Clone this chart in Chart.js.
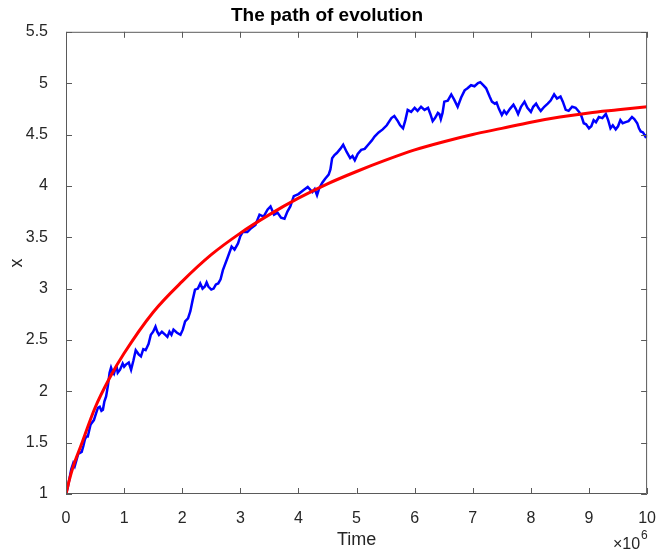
<!DOCTYPE html>
<html>
<head>
<meta charset="utf-8">
<title>The path of evolution</title>
<script src="https://cdn.jsdelivr.net/npm/chart.js@4/dist/chart.umd.min.js"></script>
<style>
  html, body { margin: 0; padding: 0; background: #fff; }
  #wrap { width: 663px; height: 554px; }
</style>
</head>
<body>
<div id="wrap"><canvas id="pathChart" width="663" height="554"></canvas></div>
<script>
// time in units of 10^6
const xTicks = [0, 1, 2, 3, 4, 5, 6, 7, 8, 9, 10];
const yTicks = [1, 1.5, 2, 2.5, 3, 3.5, 4, 4.5, 5, 5.5];

// simulated path (blue)
const pathTime = [
  0, 0.03, 0.06, 0.09, 0.125, 0.15, 0.18, 0.21, 0.24, 0.27,
  0.30, 0.325, 0.35, 0.375, 0.40, 0.42, 0.44, 0.48, 0.52, 0.55,
  0.58, 0.61, 0.635, 0.66, 0.69, 0.72, 0.75, 0.775, 0.80, 0.825,
  0.85, 0.87, 0.89, 0.93, 0.975, 1.00, 1.03, 1.08, 1.12, 1.16,
  1.20, 1.25, 1.29, 1.33, 1.37, 1.42, 1.46, 1.50, 1.54, 1.57,
  1.60, 1.65, 1.71, 1.745, 1.78, 1.815, 1.85, 1.91, 1.97, 2.01,
  2.05, 2.10, 2.14, 2.18, 2.22, 2.27, 2.31, 2.35, 2.39, 2.42,
  2.45, 2.50, 2.54, 2.58, 2.62, 2.66, 2.70, 2.78, 2.85, 2.90,
  2.96, 3.00, 3.04, 3.12, 3.19, 3.26, 3.33, 3.40, 3.47, 3.52,
  3.58, 3.64, 3.70, 3.76, 3.81, 3.86, 3.92, 4.00, 4.09, 4.16,
  4.24, 4.28, 4.32, 4.36, 4.41, 4.46, 4.52, 4.55, 4.58, 4.62,
  4.66, 4.72, 4.77, 4.83, 4.89, 4.93, 4.97, 5.02, 5.08, 5.14,
  5.20, 5.26, 5.31, 5.38, 5.45, 5.52, 5.60, 5.65, 5.71, 5.75,
  5.80, 5.84, 5.88, 5.94, 6.00, 6.05, 6.11, 6.17, 6.23, 6.27,
  6.31, 6.35, 6.40, 6.425, 6.45, 6.48, 6.51, 6.57, 6.63, 6.68,
  6.74, 6.80, 6.86, 6.91, 6.97, 7.03, 7.09, 7.13, 7.18, 7.23,
  7.29, 7.33, 7.38, 7.41, 7.45, 7.50, 7.54, 7.58, 7.64, 7.70,
  7.74, 7.78, 7.83, 7.89, 7.94, 8.00, 8.04, 8.09, 8.13, 8.17,
  8.23, 8.29, 8.34, 8.40, 8.45, 8.51, 8.55, 8.60, 8.65, 8.71,
  8.77, 8.83, 8.87, 8.91, 8.95, 9.00, 9.04, 9.08, 9.12, 9.17,
  9.23, 9.29, 9.33, 9.37, 9.41, 9.46, 9.50, 9.54, 9.58, 9.63,
  9.68, 9.74, 9.78, 9.83, 9.86, 9.89, 9.93, 9.97, 9.985, 10.00
];
const pathValue = [
  1.00, 1.06, 1.15, 1.24, 1.30, 1.27, 1.33, 1.39, 1.40, 1.41,
  1.47, 1.53, 1.56, 1.56, 1.62, 1.67, 1.69, 1.72, 1.79, 1.84,
  1.85, 1.81, 1.82, 1.90, 1.95, 2.05, 2.18, 2.23, 2.19, 2.17,
  2.22, 2.24, 2.18, 2.21, 2.27, 2.24, 2.26, 2.28, 2.21, 2.30,
  2.40, 2.36, 2.34, 2.41, 2.40, 2.46, 2.55, 2.58, 2.63, 2.58,
  2.55, 2.58, 2.55, 2.53, 2.58, 2.55, 2.60, 2.57, 2.55, 2.60,
  2.68, 2.71, 2.78, 2.89, 2.99, 3.00, 3.05, 3.00, 3.02, 3.06,
  3.02, 2.99, 3.00, 3.04, 3.05, 3.09, 3.18, 3.30, 3.41, 3.38,
  3.44, 3.51, 3.55, 3.55, 3.59, 3.62, 3.72, 3.70, 3.77, 3.80,
  3.72, 3.74, 3.69, 3.68, 3.75, 3.80, 3.90, 3.92, 3.96, 3.99,
  3.94, 3.97, 3.91, 3.98, 4.03, 4.07, 4.11, 4.16, 4.27, 4.30,
  4.32, 4.36, 4.40, 4.33, 4.27, 4.29, 4.25, 4.31, 4.35, 4.36,
  4.40, 4.44, 4.48, 4.52, 4.55, 4.59, 4.66, 4.68, 4.63, 4.59,
  4.56, 4.64, 4.74, 4.72, 4.76, 4.73, 4.77, 4.74, 4.76, 4.70,
  4.63, 4.66, 4.71, 4.70, 4.65, 4.71, 4.82, 4.83, 4.89, 4.84,
  4.77, 4.86, 4.93, 4.95, 4.98, 4.97, 5.00, 5.01, 4.98, 4.95,
  4.87, 4.82, 4.80, 4.81, 4.75, 4.69, 4.73, 4.70, 4.75, 4.79,
  4.75, 4.70, 4.77, 4.82, 4.76, 4.72, 4.77, 4.80, 4.76, 4.73,
  4.77, 4.80, 4.83, 4.89, 4.85, 4.87, 4.82, 4.74, 4.73, 4.77,
  4.76, 4.72, 4.68, 4.61, 4.60, 4.56, 4.58, 4.64, 4.62, 4.67,
  4.66, 4.70, 4.64, 4.56, 4.59, 4.55, 4.58, 4.64, 4.61, 4.62,
  4.63, 4.67, 4.65, 4.61, 4.56, 4.53, 4.52, 4.48, 4.49, 4.47
];

// expected value (red)
const meanTime = [0, 0.05, 0.125, 0.25, 0.5, 0.75, 1, 1.5, 2, 2.5, 3, 3.5, 4, 4.5, 5, 5.5, 6, 6.5, 7, 7.5, 8, 8.5, 9, 9.5, 10];
const meanValue = [1, 1.12, 1.27, 1.46, 1.84, 2.13, 2.37, 2.77, 3.07, 3.33, 3.54, 3.72, 3.88, 4.02, 4.14, 4.25, 4.35, 4.43, 4.50, 4.56, 4.62, 4.67, 4.71, 4.74, 4.77];

const FONT = "'Liberation Sans', Arial, Helvetica, sans-serif";
const TEXT = "#262626";

// box round the axes with inward ticks, plus the x10^6 note
const boxPlugin = {
  id: "box",
  afterDraw(chart) {
    const { ctx, chartArea: a, scales } = chart;
    ctx.save();
    ctx.strokeStyle = "#5a5a5a";
    ctx.lineWidth = 1;
    ctx.beginPath();
    ctx.rect(a.left + 0.5, a.top + 0.5, a.right - a.left - 1, a.bottom - a.top - 1);
    xTicks.forEach((t) => {
      const px = Math.round(scales.x.getPixelForValue(t)) + 0.5;
      ctx.moveTo(px, a.bottom);
      ctx.lineTo(px, a.bottom - 6);
      ctx.moveTo(px, a.top);
      ctx.lineTo(px, a.top + 6);
    });
    yTicks.forEach((t) => {
      const py = Math.round(scales.y.getPixelForValue(t)) + 0.5;
      ctx.moveTo(a.left, py);
      ctx.lineTo(a.left + 6, py);
      ctx.moveTo(a.right, py);
      ctx.lineTo(a.right - 6, py);
    });
    ctx.stroke();

    ctx.fillStyle = TEXT;
    ctx.textBaseline = "alphabetic";
    ctx.textAlign = "left";
    ctx.font = "16px " + FONT;
    ctx.fillText("\u00d710", 613, 549);
    ctx.font = "12px " + FONT;
    ctx.fillText("6", 641, 539);
    ctx.restore();
  },
};

document.addEventListener("DOMContentLoaded", () => {
  const ctx = document.querySelector("#pathChart").getContext("2d");

  new Chart(ctx, {
    type: "line",
    data: {
      datasets: [
        {
          label: "mean",
          data: meanTime.map((t, i) => ({ x: t, y: meanValue[i] })),
          borderColor: "#ff0000",
          borderWidth: 3,
          pointRadius: 0,
          cubicInterpolationMode: "monotone",
        },
        {
          label: "path",
          data: pathTime.map((t, i) => ({ x: t, y: pathValue[i] })),
          borderColor: "#0000ff",
          borderWidth: 2.5,
          pointRadius: 0,
          tension: 0,
        },
      ],
    },
    options: {
      responsive: false,
      animation: false,
      layout: { padding: { left: 0, right: 9, top: 0, bottom: 0 } },
      plugins: {
        legend: { display: false },
        tooltip: { enabled: false },
        title: {
          display: true,
          text: "The path of evolution",
          color: "#000",
          font: { family: FONT, size: 19, weight: "bold" },
          padding: { top: 4, bottom: 5 },
        },
      },
      scales: {
        x: {
          type: "linear",
          min: 0,
          max: 10,
          afterBuildTicks: (scale) => {
            scale.ticks = xTicks.map((v) => ({ value: v }));
          },
          afterFit: (scale) => {
            scale.height = 60;
          },
          grid: { display: false },
          border: { display: false },
          ticks: {
            color: TEXT,
            font: { family: FONT, size: 16 },
            padding: 7,
            maxRotation: 0,
            callback: (v) => String(v),
          },
          title: {
            display: true,
            text: "Time",
            color: TEXT,
            font: { family: FONT, size: 18 },
            padding: { top: 0, bottom: 3 },
          },
        },
        y: {
          min: 1,
          max: 5.5,
          afterBuildTicks: (scale) => {
            scale.ticks = yTicks.map((v) => ({ value: v }));
          },
          afterFit: (scale) => {
            scale.width = 66;
          },
          grid: { display: false },
          border: { display: false },
          ticks: {
            color: TEXT,
            font: { family: FONT, size: 16 },
            padding: 10,
            callback: (v) => String(v),
          },
          title: {
            display: true,
            text: "x",
            color: TEXT,
            font: { family: FONT, size: 18 },
            padding: { top: 6, bottom: 0 },
          },
        },
      },
    },
    plugins: [boxPlugin],
  });
});
</script>
</body>
</html>
